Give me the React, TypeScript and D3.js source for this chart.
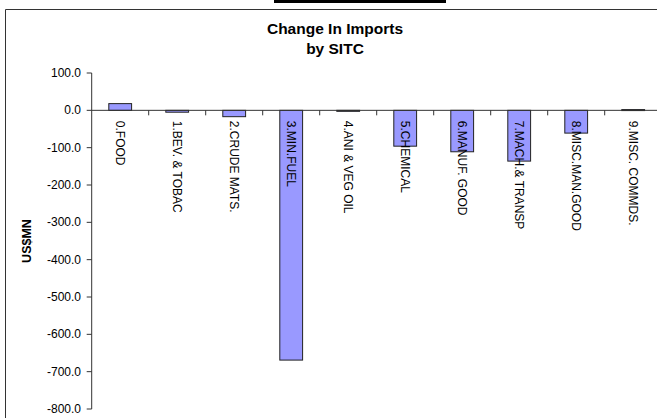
import React from 'react';
import * as d3 from 'd3';

// values (US$MN)
const categories = [
  '0.FOOD',
  '1.BEV. & TOBAC',
  '2.CRUDE MATS.',
  '3.MIN.FUEL',
  '4.ANI & VEG OIL',
  '5.CHEMICAL',
  '6.MANUF. GOOD',
  '7.MACH.& TRANSP',
  '8.MISC.MAN.GOOD',
  '9.MISC. COMMDS.',
];
const changeValues = [18, -5, -17, -669, -2, -96, -111, -136, -61, 2];
const yTicks = [100, 0, -100, -200, -300, -400, -500, -600, -700, -800];
const titleLines = ['Change In Imports', 'by SITC'];
const yLabel = 'US$MN';

const W = 657;
const H = 418;
const FONT = '"Liberation Sans", Arial, sans-serif';

const App: React.FC = () => {
  const plotLeft = 91.7;
  const step = 57;
  const x = d3
    .scaleBand<string>()
    .domain(categories)
    .range([plotLeft, plotLeft + step * categories.length])
    .paddingInner(0.6)
    .paddingOuter(0.3);
  const y = d3.scaleLinear().domain([-800, 100]).range([409, 73]);
  const y0 = y(0);
  const gap = x.step() * 0.3;

  return (
    <div>
      <style>{`body{margin:0}`}</style>
      <svg width={W} height={H} style={{ display: 'block', background: '#fff' }} fontFamily={FONT}>
        {/* black strip at top */}
        <rect x={274} y={0} width={172} height={3} fill="#000" />
        {/* chart frame (cut off right and bottom) */}
        <path d={`M5.5,${H} V9.5 H${W}`} fill="none" stroke="#333" strokeWidth={1} />

        {/* title */}
        <text textAnchor="middle" fontWeight="bold" fontSize={15.5} fill="#000">
          {titleLines.map((t, i) => (
            <tspan key={t} x={335} y={34 + i * 20}>{t}</tspan>
          ))}
        </text>

        {/* bars */}
        {changeValues.map((v, i) => (
          <rect
            key={categories[i]}
            x={x(categories[i])}
            y={Math.min(y(v), y0)}
            width={x.bandwidth()}
            height={Math.max(Math.abs(y(v) - y0), 1)}
            fill="#9999FF"
            stroke="#222"
            strokeWidth={1}
          />
        ))}

        {/* y axis */}
        <line x1={plotLeft} x2={plotLeft} y1={y(100)} y2={y(-800)} stroke="#333" />
        {yTicks.map((t) => (
          <g key={t} transform={`translate(0,${y(t)})`}>
            <line x1={plotLeft - 5} x2={plotLeft} stroke="#333" />
            <text x={81} textAnchor="end" dominantBaseline="central" fontSize={12} fill="#000">
              {t.toFixed(1)}
            </text>
          </g>
        ))}
        <text
          transform={`translate(27,241) rotate(-90)`}
          textAnchor="middle"
          dominantBaseline="central"
          fontWeight="bold"
          fontSize={12.5}
          fill="#000"
        >
          {yLabel}
        </text>

        {/* x axis at zero */}
        <line x1={plotLeft} x2={W} y1={y0} y2={y0} stroke="#333" />
        {categories.slice(1).map((c) => (
          <line key={c} x1={(x(c) ?? 0) - gap} x2={(x(c) ?? 0) - gap} y1={y0} y2={y0 + 5} stroke="#333" />
        ))}

        {/* category labels, rotated */}
        {categories.map((c) => (
          <text
            key={c}
            transform={`translate(${(x(c) ?? 0) + x.bandwidth() / 2},${y0 + 10.5}) rotate(90)`}
            dominantBaseline="central"
            fontSize={12}
            fill="#000"
          >
            {c}
          </text>
        ))}
      </svg>
    </div>
  );
};

export default App;
